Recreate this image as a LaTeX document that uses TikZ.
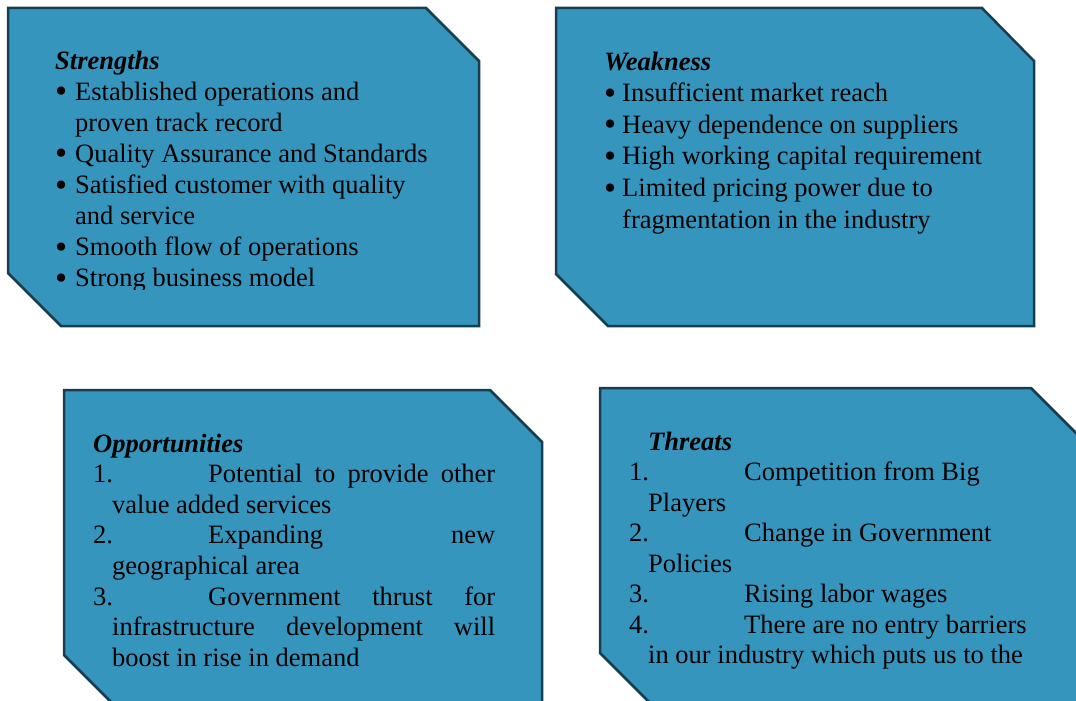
\documentclass[tikz,border=0pt]{standalone}
\usepackage{fontspec}
\setmainfont{Liberation Serif}
\usepackage{graphicx}
\usepackage{xcolor}
\usepackage{tikz}
\usetikzlibrary{shapes,arrows,positioning}

\definecolor{swotfill}{RGB}{54,149,188}
\definecolor{swotline}{RGB}{22,62,80}

\newcommand{\bigdot}{\raisebox{-0.1em}{\scalebox{1.3}{\textbullet}}}
\newcommand{\bul}[2][20pt]{\makebox[#1][l]{\bigdot}#2}
\newcommand{\num}[1]{\makebox[115pt][l]{#1}}

\tikzset{
    swotbox/.style={line width=2.5pt, draw=swotline, fill=swotfill},
    swottext/.style={anchor=base west, inner sep=0pt, align=left,
        font=\fontsize{26.5}{#1}\selectfont}
}

\begin{document}
\begin{tikzpicture}[x=1pt,y=-1pt]
                \clip (0,0) rectangle (1076,701);

                \draw[swotbox] (8,8) -- (426,8) -- (479,61) -- (479,326)
                    -- (61,326) -- (8,273) -- cycle;

                \draw[swotbox] (556,8) -- (982,8) -- (1034,61) -- (1034,326)
                    -- (608,326) -- (556,274) -- cycle;

                \draw[swotbox] (64,390) -- (490,390) -- (542,442) -- (542,707)
                    -- (116,707) -- (64,655) -- cycle;

                \draw[swotbox] (600,388) -- (1031,388) -- (1083,440) -- (1083,705)
                    -- (652,705) -- (600,653) -- cycle;

                \begin{scope}
                \clip (8,8) rectangle (479,289);
                \node[swottext=31.1] (strengths) at (55,286.7) {%
                    \textbf{\textit{Strengths}}\\
                    \bul{Established operations and}\\
                    \hspace*{20pt}proven track record\\
                    \bul{Quality Assurance and Standards}\\
                    \bul{Satisfied customer with quality}\\
                    \hspace*{20pt}and service\\
                    \bul{Smooth flow of operations}\\
                    \bul{Strong business model}};
                \end{scope}

                \node[swottext=31.6] (weakness) at (604,228) {%
                    \textbf{\textit{Weakness}}\\
                    \bul[18pt]{Insufficient market reach}\\
                    \bul[18pt]{Heavy dependence on suppliers}\\
                    \bul[18pt]{High working capital requirement}\\
                    \bul[18pt]{Limited pricing power due to}\\
                    \hspace*{18pt}fragmentation in the industry};

                \node[swottext=30.6] (opportunities) at (93,666.2) {%
                    \textbf{\textit{Opportunities}}\\
                    \num{1.}\makebox[287pt][s]{Potential to provide other}\\
                    \hspace*{19pt}value added services\\
                    \num{2.}\makebox[287pt][s]{Expanding new}\\
                    \hspace*{19pt}geographical area\\
                    \num{3.}\makebox[287pt][s]{Government thrust for}\\
                    \hspace*{19pt}\makebox[383pt][s]{infrastructure development will}\\
                    \hspace*{19pt}boost in rise in demand};

                \node[swottext=30.5] (threats) at (629,663.5) {%
                    \hspace*{19pt}\textbf{\textit{Threats}}\\
                    \num{1.}Competition from Big\\
                    \hspace*{19pt}Players\\
                    \num{2.}Change in Government\\
                    \hspace*{19pt}Policies\\
                    \num{3.}Rising labor wages\\
                    \num{4.}There are no entry barriers\\
                    \hspace*{19pt}in our industry which puts us to the};
\end{tikzpicture}
\end{document}
